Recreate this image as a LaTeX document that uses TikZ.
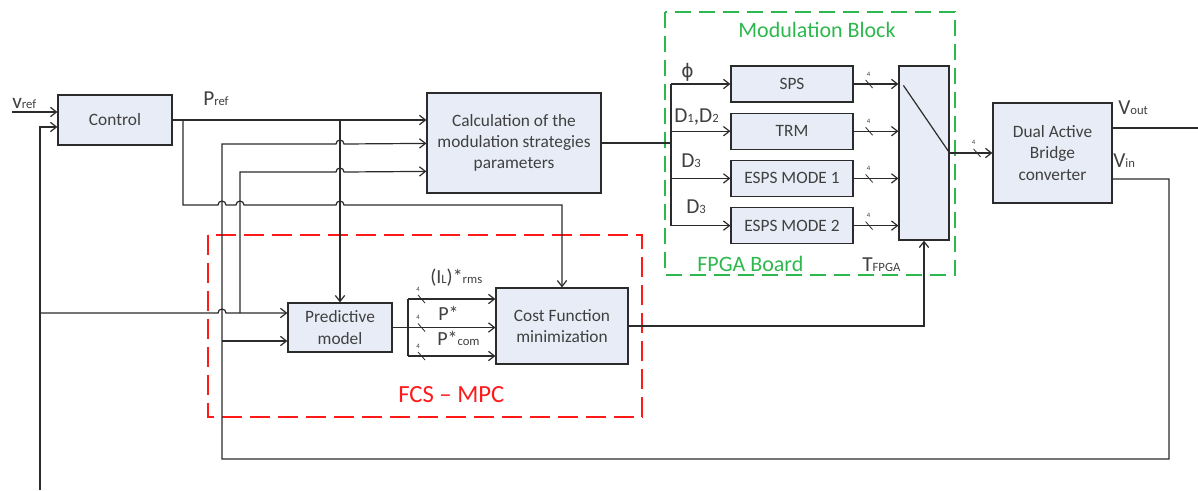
\documentclass[tikz,border=0pt]{standalone}
\usepackage{fontspec}
\setmainfont{Carlito}
\newfontfamily\phifont{DejaVu Sans}
\usepackage{tikz}
\usetikzlibrary{arrows.meta,positioning,calc}
\usepackage{xcolor}
\definecolor{dabfill}{HTML}{E7ECF6}
\definecolor{dabline}{HTML}{2B2B2B}
\definecolor{dabtext}{HTML}{404040}
\definecolor{fpgagreen}{HTML}{2DB84D}
\definecolor{mpcred}{HTML}{FF1A1A}
\newcommand{\lsub}[1]{{\fontsize{9.5pt}{9.5pt}\selectfont #1}}
\tikzset{
  block/.style={draw=dabline, line width=0.9pt, fill=dabfill, text=dabtext, align=center,
                font=\fontsize{13pt}{16pt}\selectfont, inner sep=2pt},
  subblock/.style={block, minimum width=91.5pt, minimum height=27pt},
  sig/.style={draw=dabline, line width=0.9pt},
  flow/.style={sig, -{Straight Barb[length=4.5pt,width=7pt]}},
  lbl/.style={font=\fontsize{16pt}{16pt}\selectfont, text=dabtext, inner sep=0pt},
  starlbl/.style={font=\fontsize{15pt}{15pt}\selectfont, text=dabtext, inner sep=0pt},
  four/.style={font=\fontsize{5pt}{5pt}\selectfont, text=dabtext, inner sep=0pt},
  busmark/.style={draw=dabline, line width=0.6pt},
  fpgabox/.style={draw=fpgagreen, line width=1.9pt, dash pattern=on 12pt off 6pt},
  mpcbox/.style={draw=mpcred, line width=2.2pt, dash pattern=on 15pt off 6pt},
}

\begin{document}
\begin{tikzpicture}[x=0.75pt, y=-0.75pt]
\useasboundingbox (0,0) rectangle (1198,490);

% dashed frames
\draw[fpgabox] (665,12) rectangle (955,275);
\draw[mpcbox] (208,235) rectangle (642,417);
\node[font=\fontsize{16.5pt}{16.5pt}\selectfont, text=fpgagreen, anchor=base] (modtitle) at (817,37) {Modulation Block};
\node[font=\fontsize{16.5pt}{16.5pt}\selectfont, text=fpgagreen, anchor=base west, inner sep=0pt] (fpgatitle) at (697,271) {FPGA Board};
\node[font=\fontsize{18.5pt}{18.5pt}\selectfont, text=mpcred, anchor=base west, inner sep=0pt] (mpctitle) at (398,402) {FCS -- MPC};

% blocks
\node[block, minimum width=85.5pt, minimum height=37.5pt] (ctrl) at (115,120) {Control};
\node[block, minimum width=130.5pt, minimum height=75pt] (calc) at (514,143) {Calculation of the\\modulation strategies\\parameters};
\node[subblock] (sps) at (792,84) {SPS};
\node[subblock, below=7.5pt of sps] (trm) {TRM};
\node[subblock, below=7.5pt of trm] (esps1) {ESPS MODE 1};
\node[subblock, below=7.5pt of esps1] (esps2) {ESPS MODE 2};
\node[block, minimum width=37.5pt, minimum height=130.5pt] (sel) at (924,153) {};
\node[block, minimum width=89.25pt, minimum height=75pt] (dab) at (1052.5,153) {Dual Active\\Bridge\\converter};
\node[block, minimum width=78pt, minimum height=36.75pt] (pred) at (340,327.5) {Predictive\\model};
\node[block, minimum width=99pt, minimum height=57pt] (cost) at (562,326) {Cost Function\\minimization};

% input points
\coordinate (vrefin) at (12,112);
\coordinate (fbbot) at (40,490);
\coordinate (fbtop) at (40,127);
\coordinate (fbtap) at (40,313);
\coordinate (fbup) at (240,313);
\coordinate (preftap) at (183,120);
\coordinate (vintap) at (222,341);
\coordinate (cin2) at ($(calc.north west)+(0,51)$);
\coordinate (cin3) at ($(calc.north west)+(0,79)$);
\coordinate (predin1) at ($(pred.west)+(0,-14.5)$);
\coordinate (predin2) at ($(pred.west)+(0,13.5)$);
\coordinate (vinout) at ($(dab.east)+(0,26)$);
\coordinate (voutout) at ($(dab.east)+(0,-25)$);
\coordinate (voutend) at (1198,128);
\coordinate (busx) at (671,143);
\coordinate (pbus) at (408,327.5);
\coordinate (costin1) at ($(cost.west)+(0,-27)$);
\coordinate (costmid) at (pred.east -| cost.west);
\coordinate (costin3) at ($(cost.west)+(0,30)$);

% control and references
\draw[flow] (vrefin) -- (vrefin -| ctrl.west);
\draw[flow] (fbbot) -- (fbtop) -- (fbtop -| ctrl.west);
\draw[flow] (ctrl.east) -- (ctrl.east -| calc.west);
\draw[flow] (ctrl.east -| pred.north) -- (pred.north);
\draw[flow] (preftap) |- (218,205) arc[start angle=180, end angle=0, radius=3pt]
  -- (236,205) arc[start angle=180, end angle=0, radius=3pt]
  -- (336,205) arc[start angle=180, end angle=0, radius=3pt] -| (cost.north);
\draw[flow] (fbtap) -- (218,313) arc[start angle=180, end angle=0, radius=3pt] -- (predin1);
\draw[flow] (fbup) -- (240,172) -- (336,172) arc[start angle=180, end angle=0, radius=3pt] -- (cin3);
\draw[flow] (vinout) -| (1169,459) -| (222,144) -- (336,144) arc[start angle=180, end angle=0, radius=3pt] -- (cin2);
\draw[flow] (vintap) -- (predin2);
\draw[sig] (voutout) -- (voutend);

% modulation block
\draw[sig] (calc.east) -- (calc.east -| busx);
\draw[sig] (busx |- sps.west) -- (busx |- esps2.west);
\foreach \b in {sps,trm,esps1,esps2}{
  \draw[flow] (busx |- \b.west) -- (\b.west);
  \draw[flow] (\b.east) -- (\b.east -| sel.west);
  \draw[busmark] ($(\b.east)+(12,-4)$) -- ++(7,8);
  \node[four] at ($(\b.east)+(15,-10)$) {4};
}
\draw[sig] ($(sel.north west)+(5,20)$) -- (sel.east);
\draw[flow] (sel.east) -- (dab.west);
\draw[busmark] ($(sel.east)+(24,-4)$) -- ++(7,8);
\node[four] at ($(sel.east)+(24,-11)$) {4};

% FCS-MPC
\draw[flow] (pred.east) -- (costmid);
\draw[sig] (costin1 -| pbus) -- (costin3 -| pbus);
\draw[flow] (costin1 -| pbus) -- (costin1);
\draw[flow] (costin3 -| pbus) -- (costin3);
\foreach \c in {costin1,costmid,costin3}{
  \draw[busmark] ($(\c -| pbus)+(10,-4)$) -- ++(7,8);
  \node[four] at ($(\c -| pbus)+(10,-10)$) {4};
}
\draw[flow] (cost.east) -| (sel.south);

% signal labels
\node[lbl, anchor=base west] (vreflbl) at (12,108) {v\lsub{ref}};
\node[lbl, anchor=base west] (preflbl) at (203,105) {P\lsub{ref}};
\node[lbl, anchor=base west] (voutlbl) at (1118,114) {V\lsub{out}};
\node[lbl, anchor=base west] (vinlbl) at (1113,167) {V\lsub{in}};
\node[lbl, anchor=base west] (philbl) at (681,77) {\phifont\fontsize{14pt}{14pt}\selectfont ϕ};
\node[lbl, anchor=base west] (dlbl) at (674,122) {D\lsub{1},D\lsub{2}};
\node[lbl, anchor=base west] (d3lbl) at (681,167) {D\lsub{3}};
\node[lbl, anchor=base west] (d3lblb) at (686,213) {D\lsub{3}};
\node[lbl, anchor=base west] (tlbl) at (862,271) {T\lsub{FPGA}};
\node[starlbl, anchor=base west] (ilbl) at (430,283) {(I\lsub{L})*\lsub{rms}};
\node[starlbl, anchor=base west] (plbl) at (438,320) {P*};
\node[starlbl, anchor=base west] (pclbl) at (437,345) {P*\lsub{com}};
\end{tikzpicture}
\end{document}
